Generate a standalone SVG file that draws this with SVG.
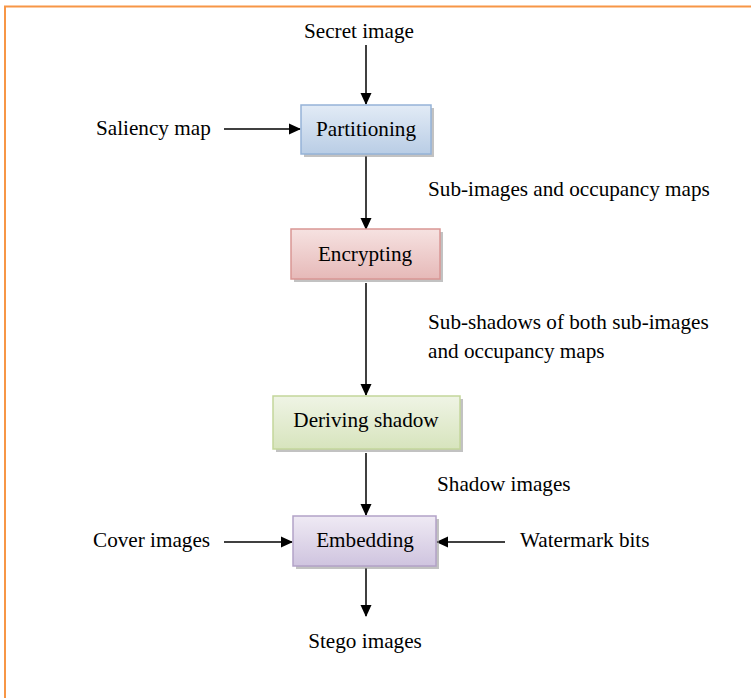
<svg xmlns="http://www.w3.org/2000/svg" width="751" height="698" viewBox="0 0 751 698">
<style>
text{font-family:"Liberation Serif","Times New Roman",serif;font-size:21.2px;fill:#000}
.c{text-anchor:middle}
.ln{stroke:#000;stroke-width:1.5;fill:none}
.sh{fill:#9a9a9a;opacity:0.6}
</style>
<defs>
<marker id="ah" markerWidth="12" markerHeight="12" refX="11" refY="6" orient="auto" markerUnits="userSpaceOnUse">
<path d="M0,0.5 L12,6 L0,11.5 Z" fill="#000"/>
</marker>
<linearGradient id="gb" x1="0" y1="0" x2="0" y2="1"><stop offset="0" stop-color="#e2ebf6"/><stop offset="1" stop-color="#b9cde5"/></linearGradient>
<linearGradient id="gr" x1="0" y1="0" x2="0" y2="1"><stop offset="0" stop-color="#f6e2e1"/><stop offset="1" stop-color="#e6b9b8"/></linearGradient>
<linearGradient id="gg" x1="0" y1="0" x2="0" y2="1"><stop offset="0" stop-color="#eff4e5"/><stop offset="1" stop-color="#d7e4bd"/></linearGradient>
<linearGradient id="gp" x1="0" y1="0" x2="0" y2="1"><stop offset="0" stop-color="#efeaf4"/><stop offset="1" stop-color="#cfc4df"/></linearGradient>
</defs>
<rect x="0" y="0" width="751" height="698" fill="#fff"/>
<path d="M5,760 L5,6.5 L760,6.5" fill="none" stroke="#f79646" stroke-width="2"/>

<g id="connectors">
<line class="ln" x1="366" y1="45" x2="366" y2="104" marker-end="url(#ah)"/>
<line class="ln" x1="224" y1="129" x2="300" y2="129" marker-end="url(#ah)"/>
<line class="ln" x1="366" y1="156" x2="366" y2="229" marker-end="url(#ah)"/>
<line class="ln" x1="366" y1="283" x2="366" y2="395" marker-end="url(#ah)"/>
<line class="ln" x1="366" y1="453" x2="366" y2="515" marker-end="url(#ah)"/>
<line class="ln" x1="224" y1="542" x2="292" y2="542" marker-end="url(#ah)"/>
<line class="ln" x1="505" y1="542" x2="437" y2="542" marker-end="url(#ah)"/>
<line class="ln" x1="366" y1="568" x2="366" y2="616" marker-end="url(#ah)"/>
</g>

<g id="labels">
<text class="c" x="359" y="38">Secret image</text>
<text x="96" y="135">Saliency map</text>
<text x="428" y="196">Sub-images and occupancy maps</text>
<text x="428" y="329">Sub-shadows of both sub-images</text>
<text x="428" y="358">and occupancy maps</text>
<text x="437" y="491">Shadow images</text>
<text x="93" y="547">Cover images</text>
<text x="520" y="547">Watermark bits</text>
<text class="c" x="365" y="648">Stego images</text>
</g>

<g id="partitioning">
<rect class="sh" x="304" y="108" width="130" height="49"/>
<rect x="301" y="105" width="130" height="49" fill="url(#gb)" stroke="#95b3d7" stroke-width="1.5"/>
<text class="c" x="366" y="136">Partitioning</text>
</g>
<g id="encrypting">
<rect class="sh" x="294" y="232" width="149" height="50"/>
<rect x="291" y="229" width="149" height="50" fill="url(#gr)" stroke="#d99694" stroke-width="1.5"/>
<text class="c" x="365" y="261">Encrypting</text>
</g>
<g id="deriving">
<rect class="sh" x="276" y="399" width="187" height="53"/>
<rect x="273" y="396" width="187" height="53" fill="url(#gg)" stroke="#c3d69b" stroke-width="1.5"/>
<text class="c" x="366" y="427">Deriving shadow</text>
</g>
<g id="embedding">
<rect class="sh" x="296" y="519" width="143" height="50"/>
<rect x="293" y="516" width="143" height="50" fill="url(#gp)" stroke="#b3a2c7" stroke-width="1.5"/>
<text class="c" x="365" y="547">Embedding</text>
</g>
</svg>
